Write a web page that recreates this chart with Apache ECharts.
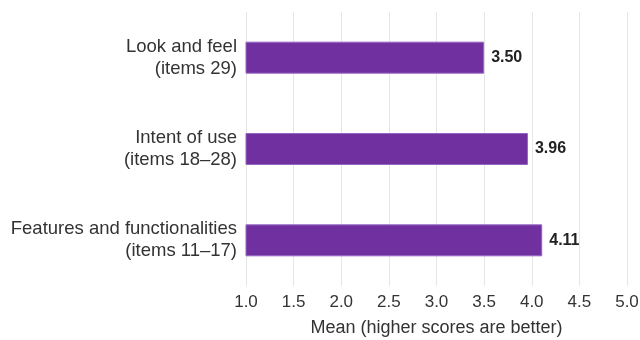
<!DOCTYPE html>
<html>
<head>
<meta charset="utf-8">
<script src="https://cdn.jsdelivr.net/npm/echarts@6/dist/echarts.min.js"></script>
<style>
  html, body { margin: 0; padding: 0; background: #fff; }
  #chart { width: 640px; height: 340px; }
</style>
</head>
<body>
<div id="chart"></div>
<script>
// categories from top to bottom
const categories = [
  'Look and feel\n(items 29)',
  'Intent of use\n(items 18–28)',
  'Features and functionalities\n(items 11–17)'
]
const means = [3.50, 3.96, 4.11]
const tickLabels = ['1.0', '1.5', '2.0', '2.5', '3.0', '3.5', '4.0', '4.5', '5.0']

const font = '"Liberation Sans", Arial, sans-serif'
const chart = echarts.init(document.getElementById('chart'))
chart.setOption({
  animation: false,
  grid: {
    top: 12,
    left: 246,
    right: 13,
    bottom: 54,
    outerBoundsMode: 'none'
  },
  xAxis: {
    type: 'value',
    min: 1,
    max: 5,
    interval: 0.5,
    name: 'Mean (higher scores are better)',
    nameLocation: 'middle',
    nameGap: 33,
    nameTextStyle: { fontFamily: font, fontSize: 18, color: '#333' },
    axisLine: { show: false },
    axisTick: { show: false },
    axisLabel: {
      fontFamily: font,
      fontSize: 17,
      color: '#333',
      margin: 8,
      formatter: (v) => tickLabels[Math.round((v - 1) / 0.5)]
    },
    splitLine: { lineStyle: { color: '#e6e6e6', width: 1 } }
  },
  yAxis: {
    type: 'category',
    inverse: true,
    data: categories,
    axisLine: { show: false },
    axisTick: { show: false },
    axisLabel: {
      fontFamily: font,
      fontSize: 18.5,
      color: '#333',
      margin: 9,
      lineHeight: 22,
      align: 'right'
    }
  },
  series: [{
    type: 'bar',
    data: means,
    barWidth: '35%',
    itemStyle: {
      color: '#7030a0',
      borderColor: '#9566c4',
      borderWidth: 1
    },
    label: {
      show: true,
      position: 'right',
      distance: 7,
      fontFamily: font,
      fontSize: 16,
      fontWeight: 'bold',
      color: '#222',
      formatter: (p) => p.value.toFixed(2)
    }
  }]
})
</script>
</body>
</html>
